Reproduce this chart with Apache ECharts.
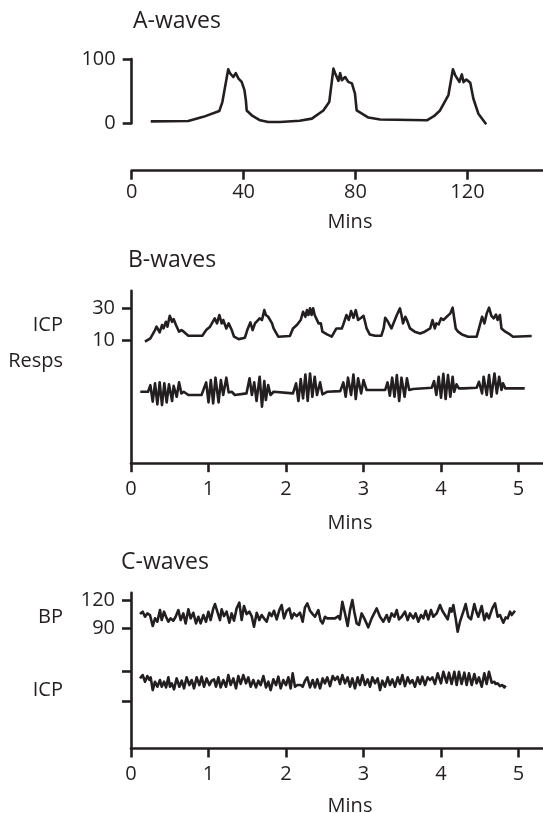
<!DOCTYPE html>
<html lang="en">
<head>
    <meta charset="UTF-8">
    <title>ICP waves</title>
    <script src="https://cdn.jsdelivr.net/npm/echarts@6/dist/echarts.min.js"></script>
    <style>
        * { margin: 0; padding: 0; }
        body { background: #fff; overflow: hidden; }
        #main { width: 543px; height: 813px; }
    </style>
</head>
<body>
<div id="main"></div>
<script type="text/javascript">

    // A-waves (mins, ICP)
    var aMins = [6.8, 20.2, 25.6, 31.3, 32.4, 34.5, 35.1, 35.8, 36.3, 37.2, 38.1, 39.3, 40.3, 40.8, 41.1, 42.9, 45.9, 48.8, 53,
        60, 64.4, 68.5, 70.6, 72.1, 72.7, 73.3, 73.9, 74.5, 75.1, 76.3, 77.4, 78.7, 79.8, 80.4, 84.6, 88.8,
        105.5, 108, 110.2, 113.2, 114.8, 115.6, 116.2, 117.1, 118, 118.6, 119.6, 121, 122.1, 123.9, 126.7];
    var aIcp = [3, 3.5, 10, 19, 33, 84, 78, 80, 72, 78, 70, 64.5, 51.5, 36, 20, 12.5, 4.7, 2, 2,
        4, 7.3, 20, 33, 85, 78, 80, 66, 78, 67, 72, 64.5, 62, 46, 20, 9, 6,
        4.7, 11, 20, 44, 84, 75, 78, 64.5, 76, 64, 68, 63, 38.6, 15, -1.5];
    var aTicks = [0, 40, 80, 120];

    // B-waves
    var bMins = [0.18, 0.25, 0.31, 0.33, 0.37, 0.40, 0.42, 0.45, 0.47, 0.50,
        0.53, 0.55, 0.58, 0.60, 0.62, 0.65, 0.68, 0.74, 0.92, 0.97,
        1.02, 1.04, 1.08, 1.11, 1.14, 1.17, 1.19, 1.23, 1.26, 1.30,
        1.33, 1.39, 1.47, 1.50, 1.54, 1.57, 1.60, 1.62, 1.66, 1.69,
        1.72, 1.74, 1.77, 1.82, 1.84, 1.90, 2.05, 2.09, 2.14, 2.19,
        2.22, 2.25, 2.27, 2.29, 2.31, 2.33, 2.35, 2.37, 2.42, 2.45,
        2.47, 2.53, 2.59, 2.65, 2.68, 2.72, 2.74, 2.78, 2.81, 2.84,
        2.87, 2.90, 2.93, 2.97, 3.00, 3.02, 3.04, 3.08, 3.15, 3.23,
        3.26, 3.28, 3.31, 3.36, 3.43, 3.47, 3.49, 3.51, 3.54, 3.56,
        3.60, 3.66, 3.73, 3.79, 3.86, 3.89, 3.92, 3.94, 3.97, 4.00,
        4.03, 4.05, 4.12, 4.15, 4.19, 4.22, 4.27, 4.35, 4.46, 4.49,
        4.53, 4.56, 4.59, 4.62, 4.65, 4.68, 4.71, 4.73, 4.76, 4.78,
        4.83, 4.89, 4.93, 5.17];
    var bIcp = [9.4, 11.5, 16.6, 18.7, 15.2, 19.7, 17.6, 21.7, 18.7, 25.4,
        21.7, 23.4, 19.7, 18.7, 15.6, 16.6, 15.6, 13.1, 13.1, 16.6,
        18.7, 17.6, 23.8, 20.7, 25.9, 20.7, 22.8, 17.6, 20.7, 16.6,
        12.5, 11.0, 11.9, 16.6, 21.3, 16.6, 20.7, 19.7, 23.8, 22.8,
        28.9, 25.9, 24.8, 20.7, 17.6, 12.5, 12.9, 17.6, 19.7, 22.8,
        27.9, 24.8, 28.9, 25.9, 30.0, 25.9, 30.0, 25.9, 20.7, 20.7,
        15.6, 13.9, 12.5, 17.6, 17.6, 17.6, 20.1, 25.9, 22.8, 28.3,
        24.2, 28.9, 22.8, 24.2, 25.4, 21.7, 17.6, 13.9, 13.1, 13.1,
        17.6, 24.2, 22.2, 17.6, 25.9, 30.0, 25.9, 20.7, 24.8, 22.8,
        17.6, 15.6, 14.5, 15.6, 17.6, 22.8, 17.6, 20.7, 20.1, 23.8,
        22.8, 23.4, 26.9, 30.4, 17.6, 15.6, 13.9, 12.5, 12.5, 17.6,
        24.8, 20.7, 26.9, 30.4, 25.4, 23.8, 26.2, 22.8, 25.9, 17.6,
        15.6, 13.9, 12.5, 12.9];
    // respiration trace, drawn on the same axis below the ICP trace
    var bRespMins = [0.12, 0.22, 0.25, 0.28, 0.31, 0.34, 0.37, 0.40, 0.43, 0.46,
        0.49, 0.53, 0.55, 0.59, 0.62, 0.65, 0.68, 0.74, 0.91, 0.97,
        1.00, 1.03, 1.06, 1.09, 1.13, 1.16, 1.19, 1.23, 1.26, 1.30,
        1.34, 1.49, 1.53, 1.56, 1.59, 1.62, 1.66, 1.69, 1.72, 1.74,
        1.77, 1.80, 1.84, 2.09, 2.13, 2.16, 2.19, 2.22, 2.25, 2.28,
        2.31, 2.34, 2.37, 2.40, 2.44, 2.47, 2.53, 2.70, 2.74, 2.77,
        2.80, 2.84, 2.87, 2.90, 2.93, 2.97, 3.00, 3.04, 3.28, 3.31,
        3.34, 3.37, 3.40, 3.43, 3.46, 3.49, 3.53, 3.56, 3.59, 3.64,
        3.88, 3.91, 3.94, 3.97, 4.00, 4.03, 4.06, 4.09, 4.12, 4.15,
        4.17, 4.20, 4.23, 4.29, 4.46, 4.49, 4.53, 4.55, 4.59, 4.62,
        4.65, 4.69, 4.72, 4.75, 4.78, 4.80, 4.83, 5.08];
    var bResp = [-21.5, -21.5, -17.4, -27.6, -16.3, -29.3, -15.7, -29.7, -16.3, -28.1,
        -16.9, -27.2, -17.8, -24.6, -15.7, -22.5, -21.5, -23.5, -23.5, -15.7,
        -28.1, -14.3, -28.7, -12.8, -28.1, -14.3, -23.5, -12.8, -21.9, -21.5,
        -23.5, -22.5, -13.2, -23.5, -15.7, -27.2, -12.2, -30.7, -14.9, -26.6,
        -17.4, -23.5, -21.5, -22.5, -16.3, -27.2, -13.7, -25.6, -10.8, -27.2,
        -10.2, -24.6, -12.2, -23.5, -15.7, -23.1, -21.5, -21.1, -15.7, -24.6,
        -12.8, -23.5, -10.8, -26.0, -13.2, -22.5, -14.3, -20.4, -20.4, -15.7,
        -23.9, -12.8, -24.6, -11.2, -27.2, -12.8, -24.6, -13.2, -20.4, -19.8,
        -19.0, -14.9, -23.5, -12.2, -25.2, -10.4, -26.0, -11.2, -24.6, -12.2,
        -21.5, -16.9, -19.4, -19.4, -19.0, -15.3, -22.5, -12.2, -23.5, -11.2,
        -24.6, -10.2, -22.5, -12.2, -20.4, -16.3, -19.4, -19.4];
    var bTicks = [10, 30];
    var minTicks = [0, 1, 2, 3, 4, 5];

    // C-waves
    var cBpMins = [0.116, 0.151, 0.181, 0.211, 0.245, 0.280, 0.310, 0.340, 0.374, 0.396,
        0.426, 0.452, 0.482, 0.512, 0.546, 0.576, 0.611, 0.641, 0.675, 0.705,
        0.740, 0.770, 0.804, 0.839, 0.869, 0.899, 0.933, 0.968, 0.998, 1.028,
        1.062, 1.084, 1.114, 1.148, 1.170, 1.200, 1.234, 1.269, 1.299, 1.329,
        1.363, 1.398, 1.428, 1.458, 1.492, 1.527, 1.557, 1.587, 1.622, 1.656,
        1.686, 1.716, 1.751, 1.785, 1.815, 1.845, 1.880, 1.914, 1.944, 1.974,
        2.009, 2.043, 2.073, 2.103, 2.138, 2.181, 2.215, 2.245, 2.275, 2.310,
        2.344, 2.374, 2.417, 2.447, 2.473, 2.503, 2.533, 2.589,
        2.632, 2.675, 2.697, 2.727, 2.761, 2.795, 2.826, 2.856, 2.881, 2.912,
        2.942, 2.976, 3.010, 3.062, 3.105, 3.170, 3.213, 3.256, 3.299, 3.329,
        3.363, 3.398, 3.428, 3.458, 3.492, 3.535, 3.570, 3.600, 3.643, 3.673,
        3.707, 3.742, 3.772, 3.802, 3.836, 3.871, 3.901, 3.944, 3.987, 4.017,
        4.051, 4.086, 4.116, 4.137, 4.159, 4.189, 4.215, 4.245, 4.288, 4.318,
        4.352, 4.387, 4.430, 4.460, 4.481, 4.525, 4.559, 4.589, 4.619, 4.662,
        4.697, 4.731, 4.761, 4.804, 4.834, 4.860, 4.890, 4.912, 4.955];
    var cBp = [105.2, 107.7, 102.4, 105.9, 104.2, 92.6, 100.7, 97.2, 109.4, 98.9,
        107.7, 102.4, 97.2, 100.7, 98.2, 102.4, 109.4, 98.9, 105.9, 95.4,
        110.2, 100.7, 106.6, 95.4, 102.4, 95.4, 104.2, 97.2, 107.7, 98.9,
        111.2, 115.8, 107.7, 98.9, 110.2, 103.1, 107.7, 96.1, 105.9, 98.2,
        111.2, 117.2, 98.9, 113.7, 105.2, 107.7, 103.1, 91.9, 106.6, 98.9,
        104.2, 100.7, 97.2, 106.6, 103.1, 108.7, 99.6, 109.4, 114.7, 100.7,
        108.7, 111.2, 100.7, 105.9, 103.1, 106.6, 97.2, 112.3, 116.5, 108.7,
        105.2, 102.4, 109.4, 98.2, 95.4, 102.4, 100.7, 100.7,
        100.7, 103.1, 99.6, 118.2, 105.9, 92.6, 109.4, 120.0, 107.7, 95.4,
        93.7, 105.9, 100.7, 91.2, 100.7, 111.2, 102.4, 97.2, 104.2, 97.2,
        105.9, 102.4, 109.4, 99.6, 102.4, 107.7, 98.9, 105.9, 100.7, 105.9,
        97.2, 104.2, 100.7, 108.7, 99.6, 109.4, 102.4, 105.9, 114.7, 108.7,
        104.2, 99.6, 111.2, 107.7, 114.7, 100.7, 86.6, 97.2, 107.7, 115.8,
        102.4, 99.6, 115.8, 106.6, 102.4, 113.7, 98.9, 105.9, 100.7, 111.2,
        116.5, 102.4, 104.2, 96.1, 101.7, 100.7, 107.7, 104.2, 108.7];
    // ICP trace, drawn on the BP axis between its two unlabelled ticks
    var cIcpMins = [0.116, 0.151, 0.181, 0.211, 0.237, 0.254, 0.280, 0.310, 0.340, 0.374,
        0.396, 0.426, 0.452, 0.482, 0.503, 0.525, 0.555, 0.589, 0.624, 0.654,
        0.684, 0.718, 0.753, 0.783, 0.813, 0.847, 0.882, 0.912, 0.942, 0.976,
        1.011, 1.041, 1.071, 1.097, 1.127, 1.157, 1.191, 1.226, 1.256, 1.286,
        1.320, 1.355, 1.385, 1.415, 1.449, 1.484, 1.514, 1.544, 1.578, 1.613,
        1.643, 1.673, 1.708, 1.742, 1.772, 1.802, 1.837, 1.871, 1.901, 1.931,
        1.966, 2.000, 2.030, 2.060, 2.086, 2.116, 2.146, 2.189, 2.215, 2.245,
        2.275, 2.310, 2.344, 2.374, 2.404, 2.439, 2.473, 2.503, 2.533, 2.568,
        2.602,
        2.632, 2.666, 2.697, 2.727, 2.761, 2.795, 2.826, 2.856, 2.890, 2.924,
        2.955, 2.985, 3.019, 3.054, 3.084, 3.114, 3.148, 3.183, 3.213, 3.243,
        3.277, 3.312, 3.342, 3.372, 3.406, 3.441, 3.471, 3.501, 3.535, 3.570,
        3.600, 3.630, 3.664, 3.699, 3.729, 3.759, 3.793, 3.828, 3.858, 3.888,
        3.922, 3.957, 4.000, 4.030, 4.073, 4.103, 4.137, 4.172, 4.202, 4.232,
        4.266, 4.301, 4.331, 4.361, 4.396, 4.430, 4.460, 4.490, 4.525, 4.559,
        4.589, 4.619, 4.654, 4.688, 4.705, 4.731, 4.761, 4.791, 4.817, 4.834];
    var cIcp = [37.5, 41.0, 34.0, 40.0, 35.8, 38.6, 25.2, 34.0, 28.7, 35.8,
        28.7, 34.0, 28.0, 38.6, 28.7, 32.3, 25.9, 37.5, 28.7, 35.1,
        27.0, 38.6, 30.5, 35.8, 27.0, 38.6, 30.5, 39.3, 28.7, 37.5,
        30.5, 35.1, 36.5, 28.7, 38.6, 28.0, 35.8, 28.7, 41.0, 30.5,
        37.5, 27.0, 40.0, 31.6, 41.0, 32.3, 38.6, 28.7, 35.8, 28.0,
        35.1, 30.5, 40.0, 28.0, 34.0, 25.2, 36.5, 30.5, 39.3, 27.0,
        35.8, 30.5, 38.6, 27.0, 42.8, 28.7, 30.5, 30.5, 28.7, 35.1,
        38.6, 28.0, 35.8, 28.0, 36.5, 27.0, 37.5, 32.3, 38.6, 29.4,
        40.0,
        35.8, 39.3, 31.6, 41.0, 32.3, 38.6, 28.7, 37.5, 27.0, 38.6,
        30.5, 41.0, 30.5, 36.5, 28.7, 38.6, 32.3, 37.5, 25.2, 35.1,
        28.7, 38.6, 30.5, 36.5, 28.7, 38.6, 31.6, 41.0, 29.4, 38.6,
        32.3, 35.8, 28.7, 38.6, 31.6, 39.3, 30.5, 38.6, 35.8, 38.6,
        31.6, 42.8, 32.3, 44.5, 33.0, 43.5, 31.6, 44.5, 30.5, 44.5,
        31.6, 43.5, 30.5, 42.8, 30.5, 42.1, 32.3, 38.6, 28.7, 42.8,
        31.6, 44.5, 33.0, 34.0, 31.6, 32.3, 29.4, 30.5, 28.0, 30.1];
    var cTicks = [120, 90, 44.7, 13];
    var cLabels = [120, 90];

    var ink = '#231f20';
    var fontName = '"Open Sans", "DejaVu Sans", sans-serif';

    function pairs(xs, ys) {
        var out = [];
        for (var i = 0; i < xs.length; i++) out.push([xs[i], ys[i]]);
        return out;
    }

    function xAxisOf(grid, max, ticks, offset, margin) {
        return {
            type: 'value', gridIndex: grid, min: 0, max: max, offset: offset,
            splitLine: {show: false},
            axisLine: {onZero: false, lineStyle: {color: ink, width: 2.6}},
            axisTick: {length: 9, customValues: ticks, lineStyle: {color: ink, width: 2.6}},
            axisLabel: {customValues: ticks, margin: margin, color: ink, fontSize: 20, fontFamily: fontName}
        };
    }

    function yAxisOf(grid, min, max, ticks, labels) {
        return {
            type: 'value', gridIndex: grid, min: min, max: max,
            splitLine: {show: false},
            axisLine: {onZero: false, lineStyle: {color: ink, width: 2.6}},
            axisTick: {length: 9, customValues: ticks, lineStyle: {color: ink, width: 2.6}},
            axisLabel: {customValues: labels, margin: 16, color: ink, fontSize: 20, fontFamily: fontName}
        };
    }

    function trace(idx, data) {
        return {
            type: 'line', xAxisIndex: idx, yAxisIndex: idx, data: data,
            showSymbol: false, clip: false, silent: true,
            lineStyle: {color: ink, width: 2.6, join: 'round'}
        };
    }

    function label(text, x, y, size, align) {
        return {
            type: 'text', x: x, y: y, silent: true,
            style: {
                text: text, fill: ink, font: size + 'px ' + fontName,
                align: align, textAlign: align, verticalAlign: 'middle', textVerticalAlign: 'middle'
            }
        };
    }

    var myChart = echarts.init(document.getElementById('main'));
    var option = {
        animation: false,
        grid: [
            {left: 131.7, right: 0, top: 59, height: 64.3},
            {left: 131, right: 0, top: 290.7, height: 172.5},
            {left: 131, right: 0, top: 592.7, height: 155.8}
        ],
        xAxis: [
            xAxisOf(0, 147, aTicks, 47.4, 12),
            xAxisOf(1, 5.316, minTicks, 0, 16),
            xAxisOf(2, 5.316, minTicks, 0, 16)
        ],
        yAxis: [
            yAxisOf(0, 0, 100, [0, 100], [0, 100]),
            yAxisOf(1, -65.6, 40.9, bTicks, bTicks),
            yAxisOf(2, -36.3, 127.7, cTicks, cLabels)
        ],
        series: [
            trace(0, pairs(aMins, aIcp)),
            trace(1, pairs(bMins, bIcp)),
            trace(1, pairs(bRespMins, bResp)),
            trace(2, pairs(cBpMins, cBp)),
            trace(2, pairs(cIcpMins, cIcp))
        ],
        graphic: [
            label('A-waves', 133, 21, 23, 'left'),
            label('B-waves', 128, 260, 23, 'left'),
            label('C-waves', 121, 562, 23, 'left'),
            label('Mins', 350, 222, 20, 'center'),
            label('Mins', 350, 523, 20, 'center'),
            label('Mins', 350, 806, 20, 'center'),
            label('ICP', 63, 325, 20, 'right'),
            label('Resps', 63, 361, 20, 'right'),
            label('BP', 63, 617, 20, 'right'),
            label('ICP', 63, 690, 20, 'right')
        ]
    };
    myChart.setOption(option);
</script>
</body>
</html>
